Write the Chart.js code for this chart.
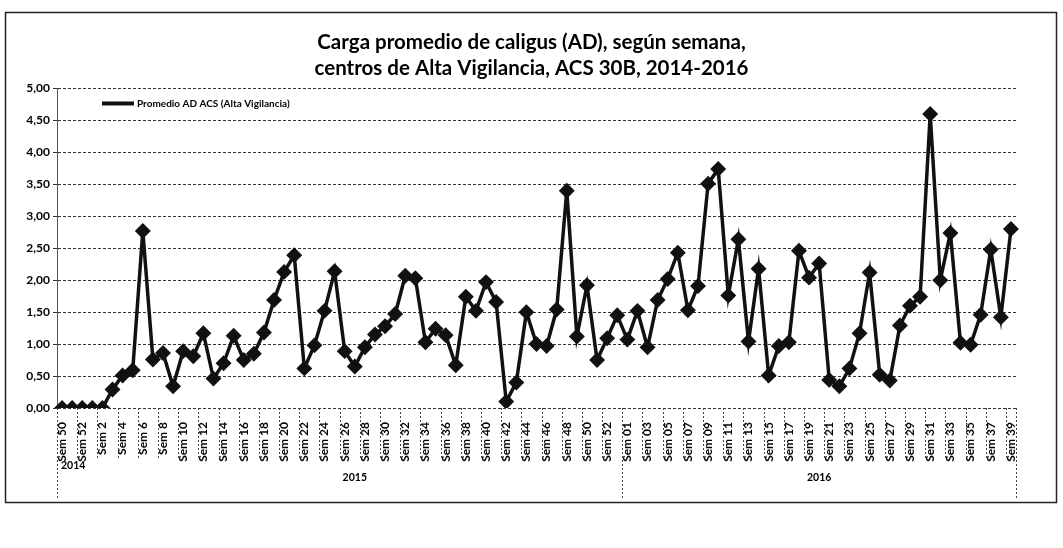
<!DOCTYPE html>
<html>
<head>
<meta charset="utf-8">
<script src="https://cdn.jsdelivr.net/npm/chart.js@4.4.1/dist/chart.umd.min.js"></script>
<style>
  html, body { margin: 0; padding: 0; background: #fff; }
  #wrap { width: 1063px; height: 548px; }
</style>
</head>
<body>
<div id="wrap"><canvas id="chart" width="1063" height="548"></canvas></div>
<script>
// weeks per year (category axis)
const weeks2014 = ['Sem 50', 'Sem 51', 'Sem 52'];
const weeks2015 = [
  'Sem 1', 'Sem 2', 'Sem 3', 'Sem 4', 'Sem 5', 'Sem 6', 'Sem 7', 'Sem 8', 'Sem 9', 'Sem 10',
  'Sem 11', 'Sem 12', 'Sem 13', 'Sem 14', 'Sem 15', 'Sem 16', 'Sem 17', 'Sem 18', 'Sem 19', 'Sem 20',
  'Sem 21', 'Sem 22', 'Sem 23', 'Sem 24', 'Sem 25', 'Sem 26', 'Sem 27', 'Sem 28', 'Sem 29', 'Sem 30',
  'Sem 31', 'Sem 32', 'Sem 33', 'Sem 34', 'Sem 35', 'Sem 36', 'Sem 37', 'Sem 38', 'Sem 39', 'Sem 40',
  'Sem 41', 'Sem 42', 'Sem 43', 'Sem 44', 'Sem 45', 'Sem 46', 'Sem 47', 'Sem 48', 'Sem 49', 'Sem 50',
  'Sem 51', 'Sem 52', 'Sem 53'
];
const weeks2016 = [
  'Sem 01', 'Sem 02', 'Sem 03', 'Sem 04', 'Sem 05', 'Sem 06', 'Sem 07', 'Sem 08', 'Sem 09', 'Sem 10',
  'Sem 11', 'Sem 12', 'Sem 13', 'Sem 14', 'Sem 15', 'Sem 16', 'Sem 17', 'Sem 18', 'Sem 19', 'Sem 20',
  'Sem 21', 'Sem 22', 'Sem 23', 'Sem 24', 'Sem 25', 'Sem 26', 'Sem 27', 'Sem 28', 'Sem 29', 'Sem 30',
  'Sem 31', 'Sem 32', 'Sem 33', 'Sem 34', 'Sem 35', 'Sem 36', 'Sem 37', 'Sem 38', 'Sem 39'
];

// average AD load per week
const values2014 = [0, 0, 0];
const values2015 = [
  0, 0, 0.29, 0.51, 0.59, 2.77, 0.76, 0.86, 0.34, 0.89,
  0.81, 1.17, 0.46, 0.70, 1.13, 0.75, 0.85, 1.18, 1.69, 2.13,
  2.39, 0.62, 0.98, 1.52, 2.14, 0.89, 0.65, 0.95, 1.15, 1.28,
  1.47, 2.07, 2.03, 1.03, 1.24, 1.14, 0.67, 1.74, 1.52, 1.97,
  1.66, 0.10, 0.40, 1.50, 1.00, 0.97, 1.54, 3.40, 1.12, 1.92,
  0.75, 1.09, 1.45
];
const values2016 = [
  1.07, 1.52, 0.95, 1.69, 2.02, 2.43, 1.53, 1.91, 3.51, 3.74,
  1.76, 2.64, 1.04, 2.18, 0.51, 0.97, 1.03, 2.46, 2.04, 2.26,
  0.44, 0.34, 0.62, 1.17, 2.12, 0.52, 0.43, 1.29, 1.60, 1.74,
  4.60, 2.00, 2.74, 1.02, 0.99, 1.46, 2.48, 1.42, 2.80
];

const years = ['2014', '2015', '2016'];
const seriesName = 'Promedio AD ACS (Alta Vigilancia)';
const titleLines = [
  'Carga promedio de caligus (AD), según semana,',
  'centros de Alta Vigilancia, ACS 30B, 2014-2016'
];

const labels = [...weeks2014, ...weeks2015, ...weeks2016];
const values = [...values2014, ...values2015, ...values2016];
const groupSizes = [weeks2014.length, weeks2015.length, weeks2016.length];

Chart.defaults.font.family = 'Lato, "DejaVu Sans", sans-serif';

// frame, year row, separators and the legend inside the plot
const decor = {
  id: 'decor',
  beforeDraw(chart) {
    const { ctx, width, height } = chart;
    ctx.save();
    ctx.fillStyle = '#fff';
    ctx.fillRect(0, 0, width, height);
    ctx.strokeStyle = '#222';
    ctx.lineWidth = 1.5;
    ctx.strokeRect(5.5, 12.5, 1051, 490);
    ctx.restore();
  },
  afterDraw(chart) {
    const { ctx, chartArea } = chart;
    const x = chart.scales.x;
    const half = (x.getPixelForValue(1) - x.getPixelForValue(0)) / 2;
    const edge = i => x.getPixelForValue(i) - half;
    const bottom = chartArea.bottom;

    ctx.save();
    ctx.strokeStyle = '#444';
    ctx.lineWidth = 1;
    ctx.setLineDash([2, 2]);
    for (let i = 0; i < labels.length; i += 2) {
      const px = Math.round(edge(i)) + 0.5;
      ctx.beginPath();
      ctx.moveTo(px, bottom);
      ctx.lineTo(px, bottom + 50);
      ctx.stroke();
    }
    // long lines at the year boundaries
    const longAt = [0, groupSizes[0] + groupSizes[1], labels.length];
    longAt.forEach(i => {
      const px = Math.round(edge(i)) + 0.5;
      ctx.beginPath();
      ctx.moveTo(px, bottom);
      ctx.lineTo(px, bottom + 90);
      ctx.stroke();
    });
    ctx.setLineDash([]);

    // year labels
    ctx.fillStyle = '#000';
    ctx.font = 'bold 10.5px Lato, sans-serif';
    ctx.textBaseline = 'middle';
    let start = 0;
    years.forEach((yr, k) => {
      const end = start + groupSizes[k];
      if (k === 0) {
        ctx.textAlign = 'left';
        ctx.fillText(yr, edge(start) + 4, bottom + 58);
      } else {
        ctx.textAlign = 'center';
        ctx.fillText(yr, (edge(start) + edge(end)) / 2, bottom + 70);
      }
      start = end;
    });

    // legend
    const lx = chartArea.left + 45;
    const ly = chartArea.top + 15;
    ctx.strokeStyle = '#111';
    ctx.lineWidth = 4;
    ctx.beginPath();
    ctx.moveTo(lx, ly);
    ctx.lineTo(lx + 32, ly);
    ctx.stroke();
    ctx.font = 'bold 10px Lato, sans-serif';
    ctx.textAlign = 'left';
    ctx.fillText(seriesName, lx + 35, ly);
    ctx.restore();
  }
};

new Chart(document.getElementById('chart'), {
  type: 'line',
  data: {
    labels: labels,
    datasets: [{
      label: seriesName,
      data: values,
      borderColor: '#111',
      backgroundColor: '#111',
      borderWidth: 3.5,
      pointStyle: 'rectRot',
      pointRadius: 5.5,
      pointHoverRadius: 5.5,
      pointBackgroundColor: '#111',
      pointBorderColor: '#111',
      tension: 0
    }]
  },
  options: {
    responsive: false,
    animation: false,
    layout: { padding: 0 },
    plugins: {
      legend: { display: false },
      tooltip: { enabled: false },
      title: {
        display: true,
        text: titleLines,
        color: '#000',
        font: { size: 20.5, weight: 'bold', lineHeight: 1.28 },
        padding: { top: 29, bottom: 7 }
      }
    },
    scales: {
      x: {
        offset: true,
        grid: { display: false },
        border: { display: false },
        ticks: {
          autoSkip: false,
          minRotation: 90,
          maxRotation: 90,
          padding: 6,
          color: '#000',
          font: { size: 12, weight: 'bold' },
          callback: function (v, i) {
            return i % 2 === 0 ? this.getLabelForValue(v) : '';
          }
        },
        afterFit: scale => { scale.height = 140; }
      },
      y: {
        min: 0,
        max: 5,
        ticks: {
          stepSize: 0.5,
          padding: 3,
          color: '#000',
          font: { size: 12, weight: 'bold' },
          callback: v => v.toFixed(2).replace('.', ',')
        },
        grid: {
          display: true,
          drawOnChartArea: true,
          color: '#333',
          lineWidth: 1,
          tickLength: 4,
          tickColor: '#333'
        },
        border: { display: true, color: '#555', dash: [3, 2] },
        afterFit: scale => { scale.width = 57; }
      },
      // empty right-hand margin so the title centres on the page
      pad: {
        position: 'right',
        display: true,
        grid: { display: false },
        border: { display: false },
        ticks: { display: false },
        afterFit: scale => { scale.width = 47; }
      }
    }
  },
  plugins: [decor]
});
</script>
</body>
</html>
